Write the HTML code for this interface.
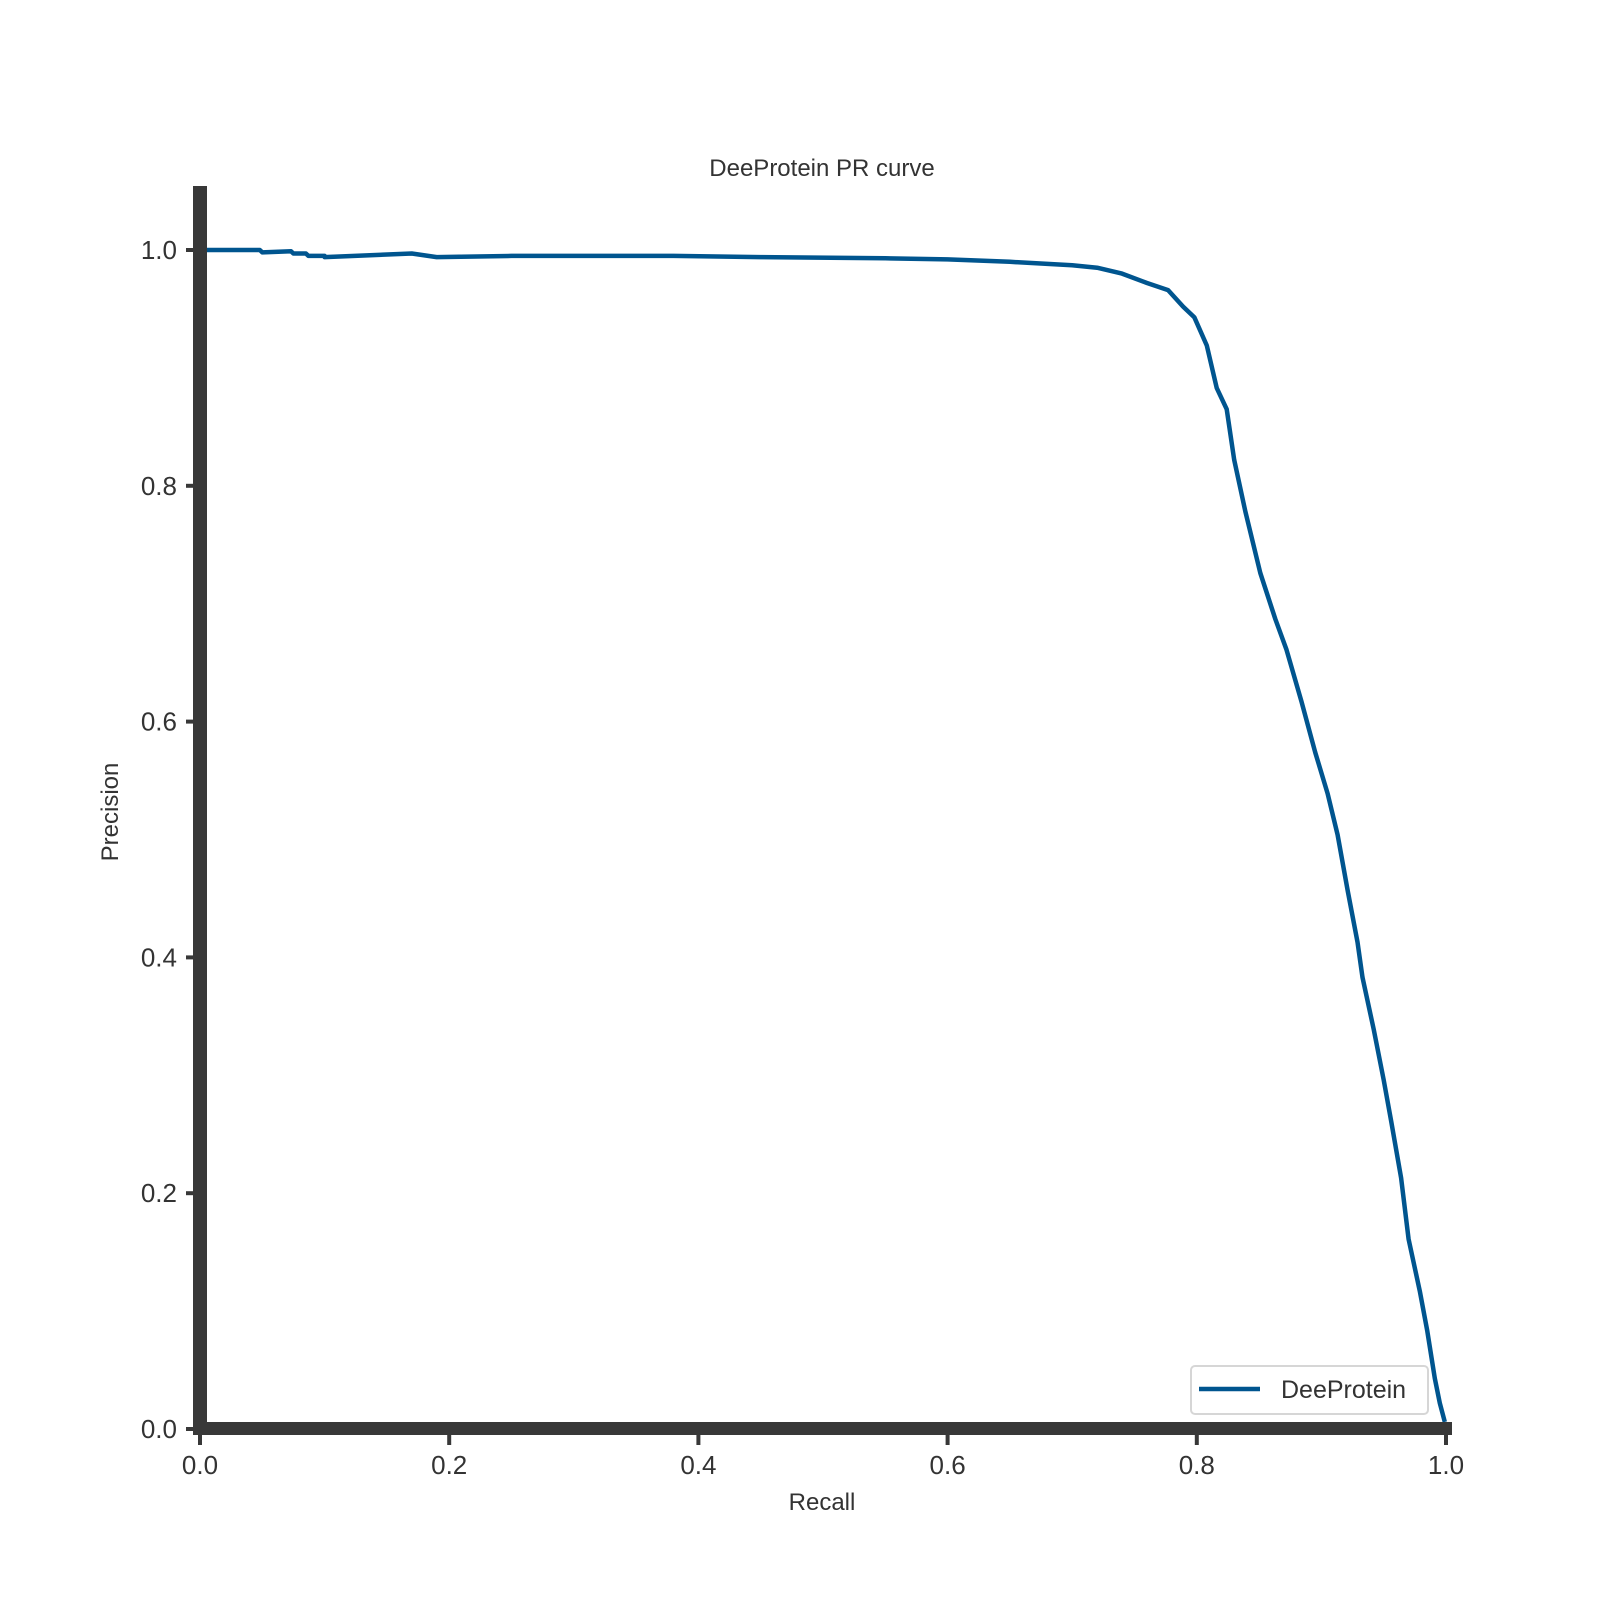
<!DOCTYPE html>
<html><head><meta charset="utf-8"><style>
html,body{margin:0;padding:0;background:#fff;}
svg text{font-family:"Liberation Sans","DejaVu Sans",sans-serif;fill:#333;}
</style></head><body>
<svg id="chart" width="1600" height="1600" xmlns="http://www.w3.org/2000/svg">
<text x="822" y="176" font-size="24" text-anchor="middle">DeeProtein PR curve</text>
<text x="822" y="1510" font-size="24" text-anchor="middle">Recall</text>
<text x="118" y="812" font-size="24" text-anchor="middle" transform="rotate(-90 118 812)">Precision</text>
<g id="ticks"></g>
<path id="curve" fill="none" stroke="#00558f" stroke-width="4.5" stroke-linejoin="round"/>
<rect x="193" y="186" width="14" height="1245" fill="#383838"/>
<rect x="193" y="1422" width="1259" height="13" fill="#383838"/>
<g>
<rect x="1191" y="1366" width="237" height="48" rx="4" fill="#fff" stroke="#d6d6d6" stroke-width="2"/>
<line x1="1199" y1="1389" x2="1260" y2="1389" stroke="#00558f" stroke-width="4.5"/>
<text x="1281" y="1398" font-size="25">DeeProtein</text>
</g>
</svg>
<script>
const recall=[0,0.048,0.05,0.073,0.075,0.085,0.087,0.1,0.1,0.17,0.19,0.25,0.38,0.45,0.55,0.6,0.65,0.7,0.72,0.74,0.76,0.777,0.789,0.798,0.808,0.816,0.824,0.830,0.839,0.851,0.863,0.872,0.884,0.895,0.905,0.913,0.921,0.929,0.933,0.942,0.950,0.956,0.964,0.970,0.979,0.985,0.991,0.995,0.999];
const precision=[1,1,0.998,0.999,0.997,0.997,0.995,0.995,0.994,0.997,0.994,0.995,0.995,0.994,0.993,0.992,0.99,0.987,0.985,0.98,0.972,0.966,0.952,0.943,0.919,0.883,0.865,0.822,0.778,0.726,0.687,0.661,0.617,0.574,0.539,0.504,0.457,0.413,0.383,0.339,0.296,0.261,0.213,0.161,0.117,0.083,0.043,0.022,0.006];
const xTicks=[0,0.2,0.4,0.6,0.8,1.0];
const yTicks=[0,0.2,0.4,0.6,0.8,1.0];
const xTickLabels=["0.0","0.2","0.4","0.6","0.8","1.0"];
const yTickLabels=["0.0","0.2","0.4","0.6","0.8","1.0"];
const X=v=>200+v*1246;
const Y=v=>1429-v*1179;
const NS="http://www.w3.org/2000/svg";
const g=document.getElementById('ticks');
xTicks.forEach((t,i)=>{
  const l=document.createElementNS(NS,'line');
  l.setAttribute('x1',X(t));l.setAttribute('x2',X(t));l.setAttribute('y1',1429);l.setAttribute('y2',1445);
  l.setAttribute('stroke','#383838');l.setAttribute('stroke-width',4);
  
  
  g.appendChild(l);
  const tx=document.createElementNS(NS,'text');
  tx.setAttribute('x',X(t));tx.setAttribute('y',1474);tx.setAttribute('font-size',26);tx.setAttribute('text-anchor','middle');
  tx.textContent=xTickLabels[i];
  
  
  g.appendChild(tx);
});
yTicks.forEach((t,i)=>{
  const l=document.createElementNS(NS,'line');
  l.setAttribute('x1',186);l.setAttribute('x2',200);l.setAttribute('y1',Y(t));l.setAttribute('y2',Y(t));
  l.setAttribute('stroke','#383838');l.setAttribute('stroke-width',4);
  
  
  g.appendChild(l);
  const tx=document.createElementNS(NS,'text');
  tx.setAttribute('x',177);tx.setAttribute('y',Y(t)+9);tx.setAttribute('font-size',26);tx.setAttribute('text-anchor','end');
  tx.textContent=yTickLabels[i];
  
  
  g.appendChild(tx);
});
document.getElementById('curve').setAttribute('d',recall.map((r,i)=>(i?'L':'M')+X(r).toFixed(1)+','+Y(precision[i]).toFixed(1)).join(' '));
</script>
</body></html>
